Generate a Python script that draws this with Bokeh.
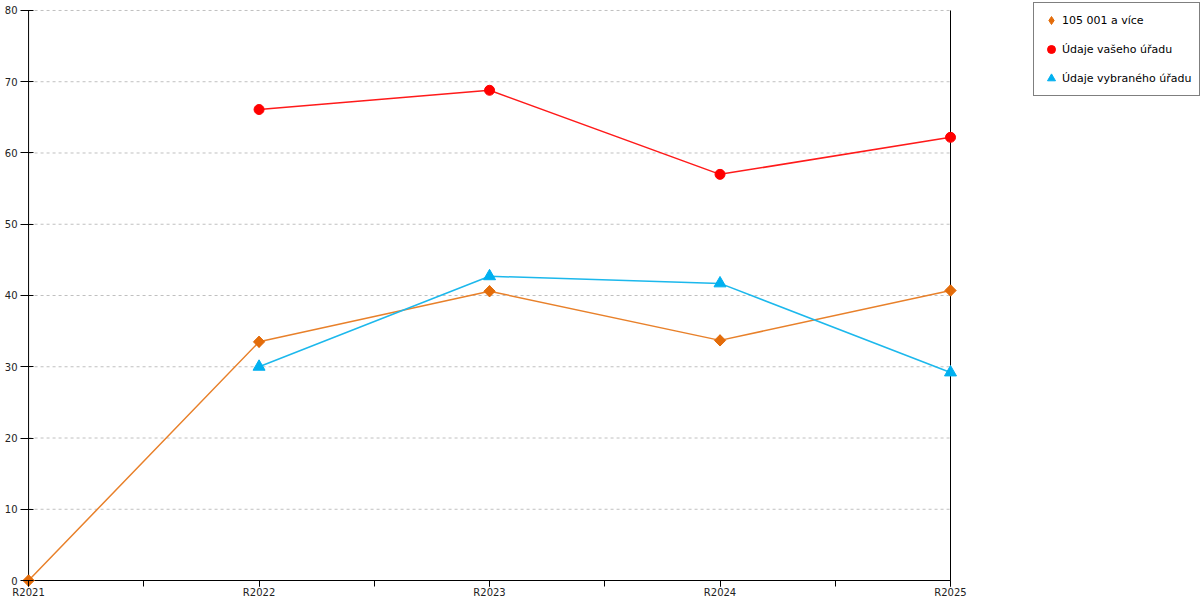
import math
from bokeh.plotting import figure
from bokeh.models import (FixedTicker, Legend, LegendItem, Range1d)
from bokeh.embed import file_html
from bokeh.resources import INLINE

categories = ["R2021", "R2022", "R2023", "R2024", "R2025"]
series_names = ["105 001 a více", "Údaje vašeho úřadu", "Údaje vybraného úřadu"]
orange_vals = [0.0, 33.5, 40.6, 33.7, 40.7]
red_vals = [None, 66.1, 68.8, 57.0, 62.2]
blue_vals = [None, 30.0, 42.7, 41.7, 29.2]
y_ticks = [0, 10, 20, 30, 40, 50, 60, 70, 80]

FONT = "DejaVu Sans"
n = len(categories)
xs = list(range(n))

# frame spans the whole width to the right (legend sits inside it, beyond the data)
p = figure(width=1200, height=600, output_backend="svg", toolbar_location=None,
           x_range=Range1d(-0.035, n - 1 + 1.0846), y_range=Range1d(-0.84, 81.26),
           min_border_left=20, min_border_top=1, min_border_right=0,
           min_border_bottom=0)
p.outline_line_color = None
p.background_fill_color = "white"
p.border_fill_color = "white"

# grid (dashed horizontal lines between the outer axis lines)
p.xgrid.visible = False
p.ygrid.visible = False
p.segment(x0=[xs[0]] * (len(y_ticks) - 1), x1=[xs[-1]] * (len(y_ticks) - 1),
          y0=y_ticks[1:], y1=y_ticks[1:],
          line_color="#c0c0c0", line_dash="3 3", line_width=1)

# axis lines: left, right, bottom
p.segment(x0=[xs[0], xs[-1], xs[0]], x1=[xs[0], xs[-1], xs[-1]],
          y0=[y_ticks[0], y_ticks[0], y_ticks[0]], y1=[y_ticks[-1], y_ticks[-1], y_ticks[0]],
          line_color="black", line_width=1)

# x axis (ticks reach from the frame edge up to y=0)
xa = p.xaxis[0]
xa.ticker = FixedTicker(ticks=xs, minor_ticks=[i * 0.5 for i in range(2 * n - 1)])
xa.major_label_overrides = {i: c for i, c in enumerate(categories)}
xa.axis_line_color = None
xa.major_tick_in = 6
xa.major_tick_out = 0
xa.minor_tick_in = 6
xa.minor_tick_out = 0
xa.minor_tick_line_color = "black"
xa.major_tick_line_color = "black"
xa.major_label_text_font = FONT
xa.major_label_text_font_size = "10px"
xa.major_label_text_color = "#222222"
xa.major_label_standoff = 0

# y axis (ticks cross the axis line at x=R2021)
ya = p.yaxis[0]
ya.ticker = FixedTicker(ticks=y_ticks, minor_ticks=[])
ya.axis_line_color = None
ya.major_tick_in = 13
ya.major_tick_out = 0
ya.major_tick_line_color = "black"
ya.major_label_text_font = FONT
ya.major_label_text_font_size = "10px"
ya.major_label_text_color = "#222222"
ya.major_label_standoff = 3

def valid(vals):
    xx = [x for x, v in zip(xs, vals) if v is not None]
    yy = [v for v in vals if v is not None]
    return xx, yy

ox, oy = valid(orange_vals)
rx, ry = valid(red_vals)
bx, by = valid(blue_vals)

p.line(ox, oy, line_color="#E8802A", line_width=1.5)
p.line(rx, ry, line_color="#FF1A1A", line_width=1.5)
p.line(bx, by, line_color="#1CB8EC", line_width=1.5)

# orange diamonds: rotated squares, with a matching diamond glyph underneath for the legend
s1 = p.scatter(ox, oy, marker="diamond", size=11,
               fill_color="#E36C0A", line_color="#E36C0A")
p.scatter(ox, oy, marker="square", angle=math.pi / 4, size=8,
          fill_color="#E36C0A", line_color="#E36C0A")
s2 = p.scatter(rx, ry, marker="circle", size=10, fill_color="#FF0000", line_color="#FF0000")
s3 = p.scatter(bx, by, marker="triangle", size=12, fill_color="#00B0F0", line_color="#00B0F0")

legend = Legend(items=[LegendItem(label=series_names[0], renderers=[s1]),
                       LegendItem(label=series_names[1], renderers=[s2]),
                       LegendItem(label=series_names[2], renderers=[s3])],
                location=(1013, 490))
legend.label_text_font = FONT
legend.label_text_font_size = "11px"
legend.label_text_color = "black"
legend.glyph_width = 20
legend.glyph_height = 20
legend.label_height = 20
legend.label_standoff = 1
legend.spacing = 9
legend.padding = 7
legend.margin = 0
legend.border_line_color = "black"
legend.border_line_width = 1
legend.background_fill_color = "white"
legend.background_fill_alpha = 1
p.add_layout(legend, "center")

open("out.html", "w").write(file_html(p, INLINE))
